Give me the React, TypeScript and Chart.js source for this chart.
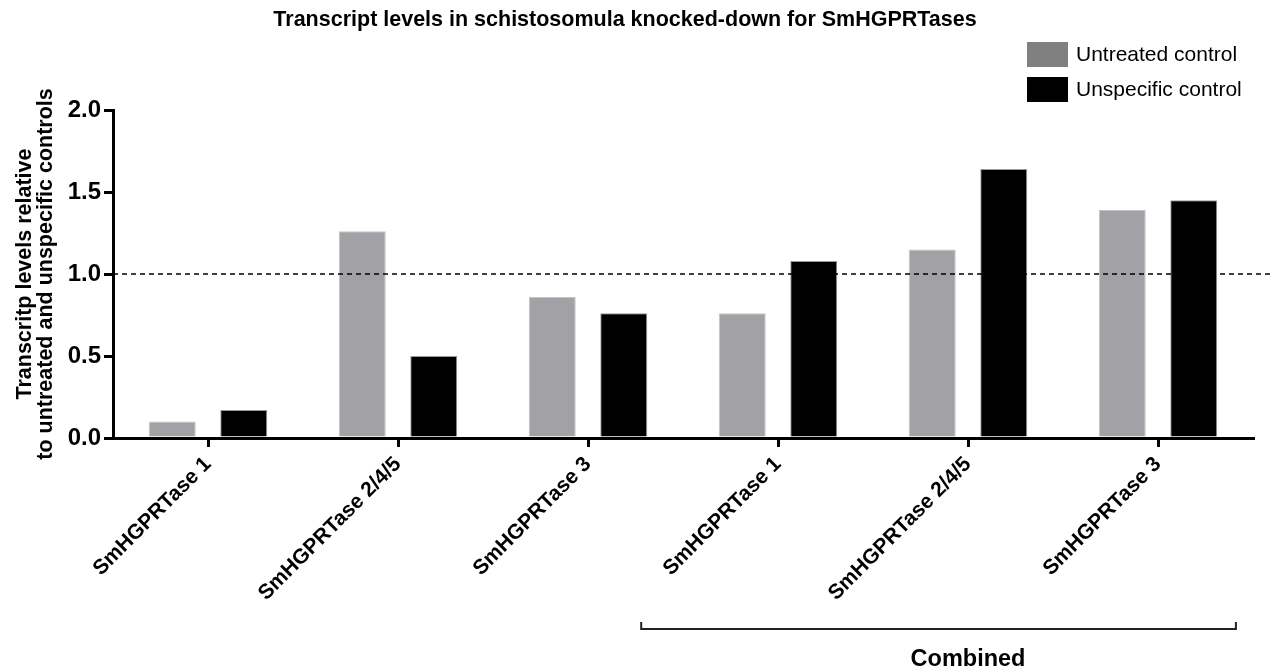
import React, { useEffect, useRef } from "react";
import { Chart, registerables } from "chart.js";

Chart.register(...registerables);

const categories = [
  "SmHGPRTase 1",
  "SmHGPRTase 2/4/5",
  "SmHGPRTase 3",
  "SmHGPRTase 1",
  "SmHGPRTase 2/4/5",
  "SmHGPRTase 3",
];
const untreatedValues = [0.1, 1.26, 0.86, 0.76, 1.15, 1.39];
const unspecificValues = [0.17, 0.5, 0.76, 1.08, 1.64, 1.45];
const seriesNames = ["Untreated control", "Unspecific control"];
const referenceValue = 1.0;
const chartTitle = "Transcript levels in schistosomula knocked-down for SmHGPRTases";
const yTitleLines = ["Transcritp levels relative", "to untreated and unspecific controls"];
const groupLabel = "Combined";
const groupStart = 3;
const groupEnd = 5;

const FONT = '"Liberation Sans", Arial, sans-serif';

const overlayPlugin = {
  id: "overlay",
  afterDatasetsDraw(chart: any) {
    const { ctx, chartArea, scales } = chart;
    const y = scales.y;
    const yy = y.getPixelForValue(referenceValue);
    ctx.save();
    ctx.strokeStyle = "#000";
    ctx.lineWidth = 1.5;
    ctx.setLineDash([5, 4]);
    ctx.beginPath();
    ctx.moveTo(chartArea.left, yy);
    ctx.lineTo(chart.width, yy);
    ctx.stroke();
    ctx.restore();
  },
  afterDraw(chart: any) {
    const { ctx, chartArea, scales } = chart;
    const x = scales.x;
    ctx.save();
    // Title
    ctx.fillStyle = "#000";
    ctx.font = `bold 21.5px ${FONT}`;
    ctx.textAlign = "center";
    ctx.textBaseline = "middle";
    ctx.fillText(chartTitle, 625, 20);

    // Y title
    ctx.save();
    const cy = (chartArea.top + chartArea.bottom) / 2;
    ctx.translate(0, cy);
    ctx.rotate(-Math.PI / 2);
    ctx.font = `bold 21.5px ${FONT}`;
    ctx.fillText(yTitleLines[0], 0, 25);
    ctx.fillText(yTitleLines[1], 0, 46);
    ctx.restore();

    // Legend
    const colors = ["#808080", "#000000"];
    ctx.font = `21px ${FONT}`;
    ctx.textAlign = "left";
    for (let i = 0; i < seriesNames.length; i++) {
      const top = 42 + i * 35;
      ctx.fillStyle = colors[i];
      ctx.fillRect(1027, top, 41, 25);
      ctx.fillStyle = "#000";
      ctx.fillText(seriesNames[i], 1076, top + 13);
    }

    // Bracket
    const cw = x.getPixelForValue(1) - x.getPixelForValue(0);
    const bx0 = x.getPixelForValue(groupStart) - 0.72 * cw;
    const bx1 = x.getPixelForValue(groupEnd) + 0.41 * cw;
    const by = 629;
    ctx.strokeStyle = "#222";
    ctx.lineWidth = 2;
    ctx.beginPath();
    ctx.moveTo(bx0, by - 7);
    ctx.lineTo(bx0, by);
    ctx.lineTo(bx1, by);
    ctx.lineTo(bx1, by - 7);
    ctx.stroke();
    ctx.fillStyle = "#000";
    ctx.font = `bold 23.5px ${FONT}`;
    ctx.textAlign = "center";
    ctx.fillText(groupLabel, (x.getPixelForValue(groupStart) + x.getPixelForValue(groupEnd)) / 2, 660);
    ctx.restore();
  },
};

export default function App() {
  const ref = useRef<HTMLCanvasElement>(null);
  useEffect(() => {
    document.body.style.margin = "0";
    const chart = new Chart(ref.current as HTMLCanvasElement, {
      type: "bar",
      data: {
        labels: categories,
        datasets: [
          {
            label: seriesNames[0],
            data: untreatedValues,
            backgroundColor: "#a2a1a5",
            borderColor: "#c4c4c6",
            borderWidth: 1,
          },
          {
            label: seriesNames[1],
            data: unspecificValues,
            backgroundColor: "#000000",
            borderColor: "#9a9a9a",
            borderWidth: 1,
          },
        ],
      },
      options: {
        animation: false,
        responsive: false,
        maintainAspectRatio: false,
        layout: { padding: { top: 110, right: 21, left: 0, bottom: 0 } },
        datasets: { bar: { categoryPercentage: 0.753, barPercentage: 0.657 } },
        plugins: {
          legend: { display: false },
          title: { display: false },
          tooltip: { enabled: false },
        },
        scales: {
          x: {
            grid: {
              display: true,
              drawOnChartArea: false,
              drawTicks: true,
              tickLength: 9,
              color: "#000",
              lineWidth: 3,
              offset: false,
            },
            border: { display: true, color: "#000", width: 3 },
            ticks: {
              autoSkip: false,
              maxRotation: 45,
              minRotation: 45,
              color: "#000",
              padding: 5,
              font: { family: FONT, size: 21, weight: "bold" },
            },
            afterFit(s: any) {
              s.height = 234;
              s.paddingLeft = 0;
              s.paddingRight = 0;
            },
          },
          y: {
            min: 0,
            max: 2,
            grid: {
              display: true,
              drawOnChartArea: false,
              drawTicks: true,
              tickLength: 9,
              color: "#000",
              lineWidth: 3,
            },
            border: { display: true, color: "#000", width: 3 },
            ticks: {
              stepSize: 0.5,
              color: "#000",
              padding: 3,
              font: { family: FONT, size: 24, weight: "bold" },
              callback: (v: any) => Number(v).toFixed(1),
            },
            afterFit(s: any) {
              s.width = 113;
              s.paddingTop = 0;
              s.paddingBottom = 0;
            },
          },
        },
      },
      plugins: [overlayPlugin],
    } as any);
    return () => chart.destroy();
  }, []);
  return (
    <div style={{ width: 1274, height: 672 }}>
      <canvas ref={ref} width={1274} height={672} style={{ display: "block" }} />
    </div>
  );
}
